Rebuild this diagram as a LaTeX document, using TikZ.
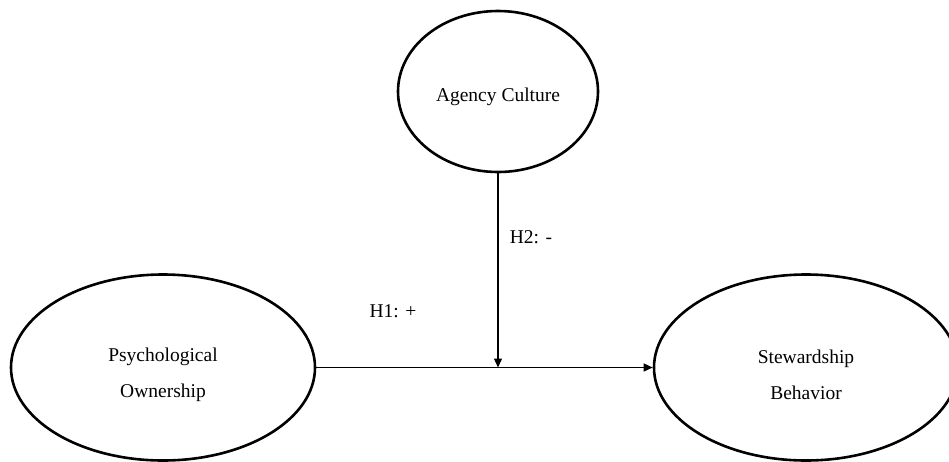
\documentclass[tikz,border=0pt]{standalone}
\usepackage{fontspec}
\setmainfont{Liberation Serif}
\usetikzlibrary{shapes.geometric,arrows.meta}
\begin{document}
\begin{tikzpicture}[x=1pt,y=-1pt,
  construct/.style={ellipse,draw=black,line width=2.6pt,inner sep=0pt},
  lbl/.style={font=\fontsize{19.5}{36}\selectfont,align=center,inner sep=0pt},
  hyp/.style={font=\fontsize{19.5}{24}\selectfont,inner sep=0pt},
  link/.style={draw=black,line width=1.3pt,-{Triangle[length=9pt,width=8pt]}}]
\useasboundingbox (0,0) rectangle (949,461);
\clip (0,0) rectangle (949,461);
\node[construct,minimum width=200pt,minimum height=161pt] (agency) at (498,91.5) {};
\node[construct,minimum width=304pt,minimum height=186pt] (psych) at (163,367.5) {};
\node[construct,minimum width=304pt,minimum height=186pt] (stew) at (806,367.5) {};
\node[lbl] (agencytext) at (498,97) {Agency Culture};
\node[lbl] (psychtext) at (163,375) {Psychological\\Ownership};
\node[lbl] (stewtext) at (806,375) {Stewardship\\Behavior};
\coordinate (meet) at (agency.south |- psych.east);
\draw[link] (psych.east) -- (stew.west);
\draw[link] (agency.south) -- (meet);
\node[hyp] (h1) at (393,311) {H1: +};
\node[hyp] (h2) at (531,237) {H2: -};
\end{tikzpicture}
\end{document}
